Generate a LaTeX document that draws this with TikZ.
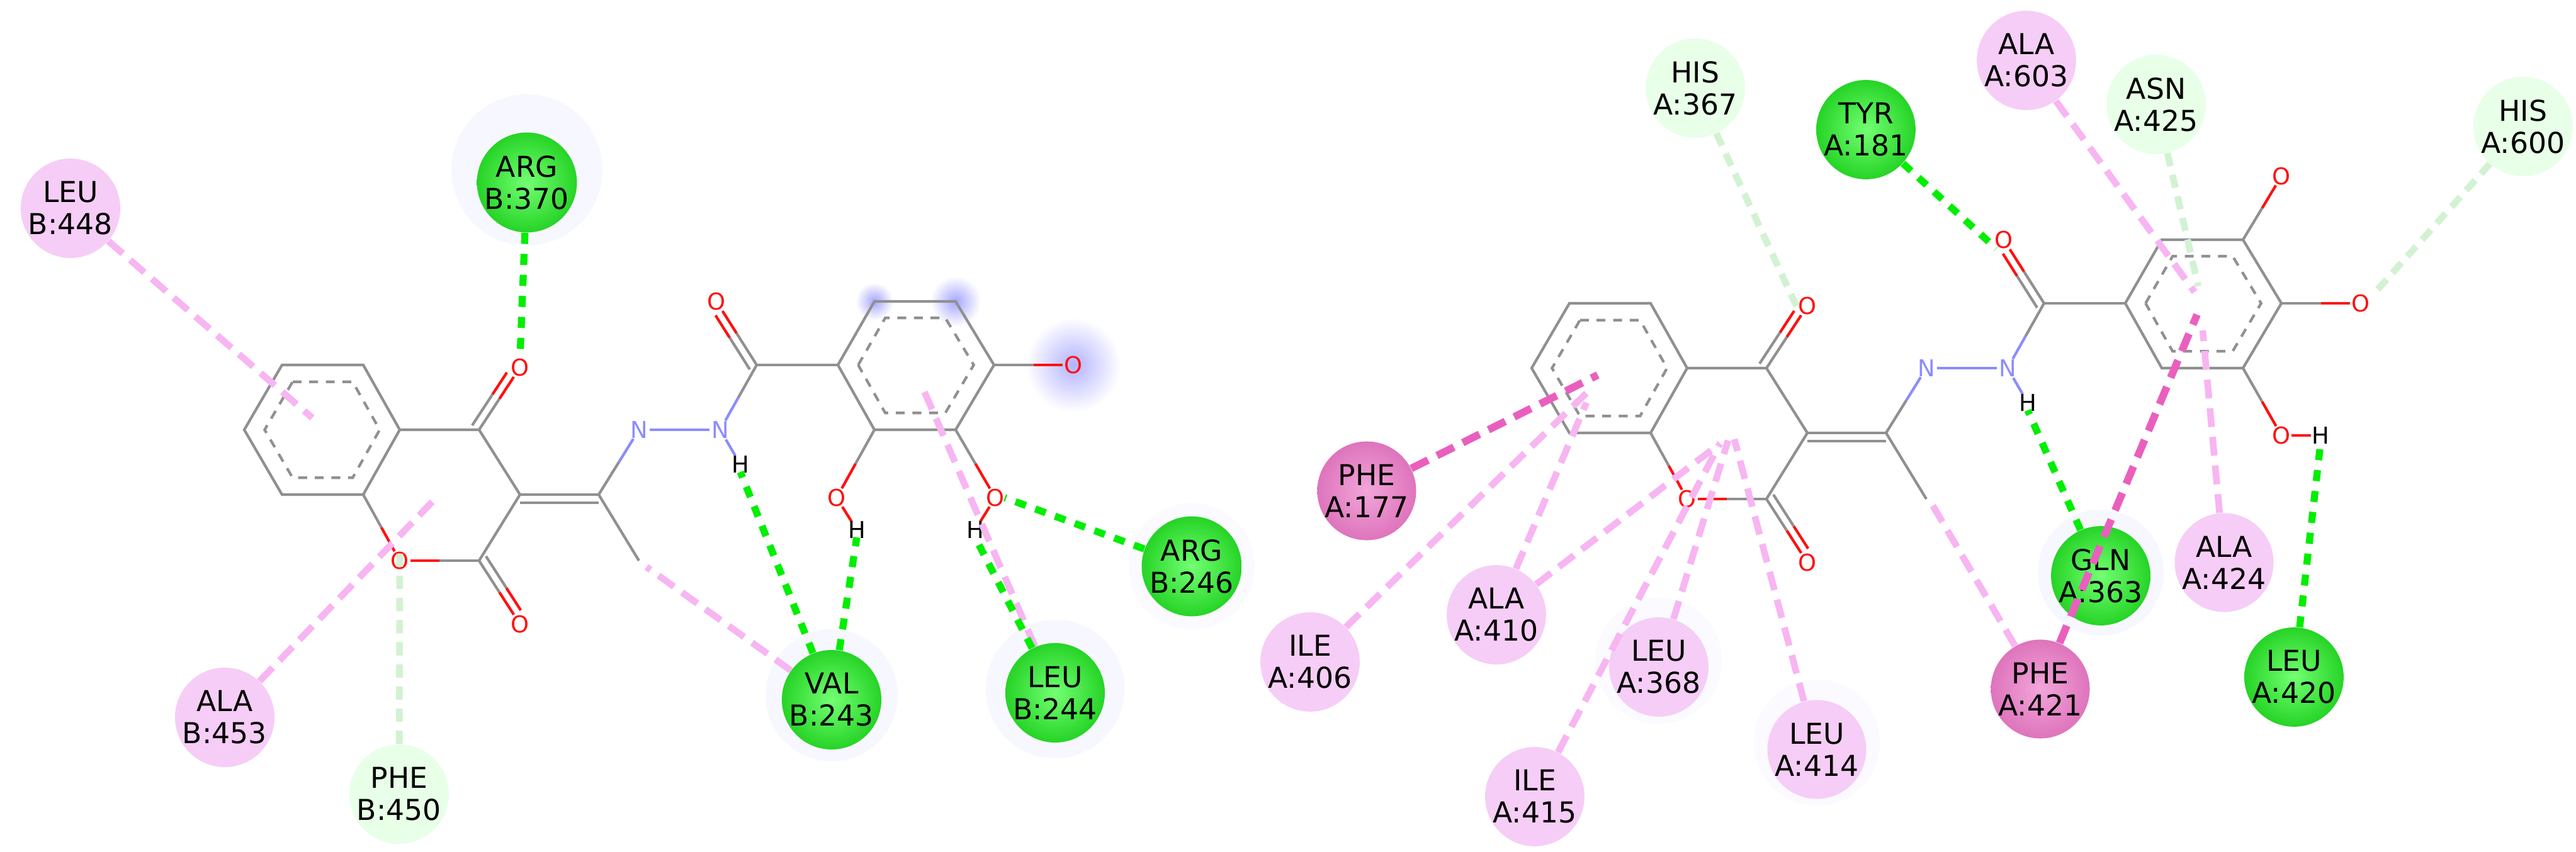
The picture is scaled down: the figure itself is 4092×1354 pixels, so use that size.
\documentclass[tikz,border=0pt]{standalone}
\usepackage{fontspec}
\setmainfont{DejaVu Sans}
\usetikzlibrary{calc}
\definecolor{bondgray}{HTML}{909090}
\definecolor{Ored}{HTML}{FF1010}
\definecolor{Nblue}{HTML}{8C8CFF}
\definecolor{hbgreen}{HTML}{00EE00}
\definecolor{pipink}{HTML}{F7B5F2}
\definecolor{vdwline}{HTML}{D2F2D2}
\definecolor{deeppink}{HTML}{EA5FBE}
\definecolor{dpin}{HTML}{F2A6DA}
\definecolor{dpout}{HTML}{DE74BC}
\definecolor{lpink}{HTML}{F6CDF6}
\tikzset{
  bond/.style={draw=bondgray,line width=1.2pt},
  atO/.style={text=Ored,inner sep=0pt,font=\fontsize{10.5}{12}\selectfont},
  atN/.style={text=Nblue,inner sep=0pt,font=\fontsize{10.5}{12}\selectfont},
  atH/.style={text=black,inner sep=0pt,font=\fontsize{10.5}{12}\selectfont},
  res/.style={circle,minimum size=1.56cm,inner sep=0pt,align=center,font=\fontsize{13}{14.5}\selectfont},
  resG/.style={res,shading=radial,inner color=green!55!white,outer color=green!80!black!85},
  resP/.style={res,fill=lpink},
  resL/.style={res,fill=green!9!white},
  resD/.style={res,shading=radial,inner color=dpin,outer color=dpout},
  hbl/.style={draw=hbgreen,line width=3.2pt,dash pattern=on 5pt off 4.5pt},
  pil/.style={draw=pipink,line width=3pt,dash pattern=on 8.5pt off 4.5pt},
  vdw/.style={draw=vdwline,line width=3pt,dash pattern=on 6pt off 4pt},
  ppl/.style={draw=deeppink,line width=3.4pt,dash pattern=on 8.5pt off 4.5pt},
  halo/.style={fill=blue!3},
  arom/.style={draw=bondgray,line width=1.2pt,dash pattern=on 4pt off 3.5pt},
}
\newcommand{\hbd}[5]{%
  \draw[bond,#3] (#1) -- ($(#1)!.5!(#2)$);
  \draw[bond,#4,shorten >=#5] ($(#1)!.5!(#2)$) -- (#2);}
\newcommand{\dhb}[6]{%
  \hbd{#1}{#2}{#3}{#4}{#5}
  \draw[bond,#3] ([shift={#6}]#1) -- ($([shift={#6}]#1)!.5!([shift={#6}]#2)$);
  \draw[bond,#4,shorten >=#5] ($([shift={#6}]#1)!.5!([shift={#6}]#2)$) -- ([shift={#6}]#2);}
\newcommand{\aromring}[7]{%
  \coordinate (#1c) at ($(#2)!.5!(#5)$);
  \draw[bond] (#2) -- (#3) -- (#4) -- (#5) -- (#6) -- (#7) -- cycle;
  \draw[arom] ($(#1c)!.74!(#2)$) -- ($(#1c)!.74!(#3)$) -- ($(#1c)!.74!(#4)$) -- ($(#1c)!.74!(#5)$) -- ($(#1c)!.74!(#6)$) -- ($(#1c)!.74!(#7)$) -- cycle;}
\newcommand{\mcore}[1]{%
  \coordinate (#1b1) at (2493,482); \coordinate (#1b2) at (2622,482);
  \coordinate (#1b3) at (2680,585); \coordinate (#1b4) at (2622,688);
  \coordinate (#1b5) at (2493,688); \coordinate (#1b6) at (2433,585);
  \coordinate (#1C4) at (2806,585); \coordinate (#1C3) at (2871,688);
  \coordinate (#1C2) at (2806,793); \coordinate (#1O1) at (2680,793);
  \coordinate (#1O4) at (2871,486); \coordinate (#1O2) at (2871,894);
  \coordinate (#1Cx) at (2996,688); \coordinate (#1Me) at (3060,793);
  \coordinate (#1N1) at (3060,585); \coordinate (#1N2) at (3189,585);
  \coordinate (#1H) at (3221,640); \coordinate (#1Ca) at (3247,482);
  \coordinate (#1Oa) at (3183,381);
  \coordinate (#1r1) at (3376,482); \coordinate (#1r2) at (3434,381);
  \coordinate (#1r3) at (3563,381); \coordinate (#1r4) at (3624,482);
  \coordinate (#1r5) at (3563,585); \coordinate (#1r6) at (3434,585);
  \aromring{#1B}{#1b1}{#1b2}{#1b3}{#1b4}{#1b5}{#1b6}
  \aromring{#1R}{#1r1}{#1r2}{#1r3}{#1r4}{#1r5}{#1r6}
  \draw[bond] (#1b3) -- (#1C4) -- (#1C3) -- (#1C2);
  \hbd{#1b4}{#1O1}{}{Ored}{0.17cm}
  \hbd{#1C2}{#1O1}{}{Ored}{0.17cm}
  \dhb{#1C4}{#1O4}{}{Ored}{0.18cm}{(-11,-7)}
  \dhb{#1C2}{#1O2}{}{Ored}{0.18cm}{(11,-7)}
  \draw[bond] (#1C3) -- (#1Cx); \draw[bond] ([yshift=-0.13cm]#1C3) -- ([yshift=-0.13cm]#1Cx);
  \draw[bond] (#1Cx) -- (#1Me);
  \hbd{#1Cx}{#1N1}{}{Nblue}{0.17cm}
  \draw[bond,Nblue,shorten <=0.17cm,shorten >=0.17cm] (#1N1) -- (#1N2);
  \hbd{#1Ca}{#1N2}{}{Nblue}{0.17cm}
  \dhb{#1Ca}{#1Oa}{}{Ored}{0.18cm}{(-11,7)}
  \draw[bond] (#1Ca) -- (#1r1);
  \draw[bond,Nblue,shorten <=0.18cm,shorten >=0.16cm] (#1N2) -- (#1H);
  \node[atO] at (#1O1) {O}; \node[atO] at (#1O4) {O}; \node[atO] at (#1O2) {O};
  \node[atO] at (#1Oa) {O}; \node[atN] at (#1N1) {N}; \node[atN] at (#1N2) {N};
  \node[atH] at (#1H) {H};}
\begin{document}
\begin{tikzpicture}[x=0.01cm,y=-0.01cm]
\useasboundingbox (0,0) rectangle (4092,1354);
\fill[white] (0,0) rectangle (4092,1354);
% halos
\fill[halo] (837,270) circle (120);
\fill[halo] (1321,1105) circle (105);
\fill[halo] (1676,1095) circle (110);
\fill[blue!2] (1893,900) circle (100);
\fill[halo] (3337,910) circle (100);
\fill[blue!2] (2635,1050) circle (100);
\fill[blue!2] (2886,1180) circle (100);
\shade[inner color=blue!35,outer color=white] (1389,479) circle (30);
\shade[inner color=blue!35,outer color=white] (1518,479) circle (40);
\shade[inner color=blue!30,outer color=white] (1705,580) circle (75);
% ===== left molecule =====
\begin{scope}[shift={(-2045,98)}]
  \mcore{L}
  \coordinate (LOr) at (3750,482);
  \coordinate (LOb) at (3374,693); \coordinate (LHb) at (3406,744);
  \coordinate (LOc) at (3626,693); \coordinate (LHc) at (3594,744);
  \hbd{Lr4}{LOr}{}{Ored}{0.17cm}
  \hbd{Lr6}{LOb}{}{Ored}{0.17cm}
  \hbd{Lr5}{LOc}{}{Ored}{0.17cm}
  \draw[bond,Ored,shorten <=0.17cm,shorten >=0.15cm] (LOb) -- (LHb);
  \draw[bond,Ored,shorten <=0.17cm,shorten >=0.15cm] (LOc) -- (LHc);
  \node[atO] at (LOr) {O}; \node[atO] at (LOb) {O}; \node[atO] at (LOc) {O};
  \node[atH] at (LHb) {H}; \node[atH] at (LHc) {H};
\end{scope}
% ===== right molecule =====
\mcore{R}
\coordinate (ROt) at (3624,280); \coordinate (ROr) at (3750,482);
\coordinate (ROc) at (3624,692); \coordinate (RHc) at (3686,692);
\hbd{Rr3}{ROt}{}{Ored}{0.17cm}
\hbd{Rr4}{ROr}{}{Ored}{0.17cm}
\hbd{Rr5}{ROc}{}{Ored}{0.17cm}
\draw[bond,Ored,shorten <=0.16cm,shorten >=0.15cm] (ROc) -- (RHc);
\node[atO] at (ROt) {O}; \node[atO] at (ROr) {O}; \node[atO] at (ROc) {O};
\node[atH] at (RHc) {H};
% residues
\node[resP] (leu448) at (112,331) {LEU\\B:448};
\node[resG] (arg370) at (837,290) {ARG\\B:370};
\node[resP] (ala453) at (357,1140) {ALA\\B:453};
\node[resL] (phe450) at (634,1262) {PHE\\B:450};
\node[resG] (val243) at (1321,1112) {VAL\\B:243};
\node[resG] (leu244) at (1676,1101) {LEU\\B:244};
\node[resG] (arg246) at (1893,900) {ARG\\B:246};
\node[resL] (his367) at (2693,140) {HIS\\A:367};
\node[resG] (tyr181) at (2964,206) {TYR\\A:181};
\node[resP] (ala603) at (3219,96) {ALA\\A:603};
\node[resL] (asn425) at (3425,166) {ASN\\A:425};
\node[resL] (his600) at (4008,201) {HIS\\A:600};
\node[resD] (phe177) at (2171,780) {PHE\\A:177};
\node[resP] (ala410) at (2377,977) {ALA\\A:410};
\node[resP] (ile406) at (2081,1052) {ILE\\A:406};
\node[resP] (leu368) at (2635,1060) {LEU\\A:368};
\node[resP] (leu414) at (2886,1191) {LEU\\A:414};
\node[resP] (ile415) at (2438,1266) {ILE\\A:415};
\node[resD] (phe421) at (3241,1095) {PHE\\A:421};
\node[resG] (gln363) at (3337,915) {GLN\\A:363};
\node[resP] (ala424) at (3533,894) {ALA\\A:424};
\node[resG] (leu420) at (3644,1076) {LEU\\A:420};
% connector end points
\coordinate (eL1) at (496,664); \coordinate (eL2) at (688,796);
\coordinate (eL3) at (1463,610);
\coordinate (eR1) at (2538,596); \coordinate (eR2) at (2530,615);
\coordinate (eR3) at (2520,640); \coordinate (eR4) at (2732,705);
\coordinate (eR5) at (2745,700); \coordinate (eR6) at (2755,698);
\coordinate (eR7) at (3490,500); \coordinate (eR8) at (3486,464);
\coordinate (eR9) at (3492,455); \coordinate (eR10) at (3499,525);
% left connectors
\draw[pil] (leu448) -- (eL1);
\draw[pil] (ala453) -- (eL2);
\draw[vdw] (phe450) -- ([yshift=0.15cm]LO1);
\draw[hbl] (arg370) -- ([yshift=0.15cm]LO4);
\draw[pil] (val243) -- ([shift={(12,10)}]LMe);
\draw[hbl] (val243) -- ([yshift=-0.12cm]LH);
\draw[hbl] (val243) -- ([yshift=-0.12cm]LHb);
\draw[pil] (leu244) -- (eL3);
\draw[hbl] (leu244) -- ([yshift=-0.12cm]LHc);
\draw[hbl] (arg246) -- ([xshift=0.15cm]LOc);
% right connectors
\draw[vdw] (his367) -- ([shift={(-12,12)}]RO4);
\draw[hbl] (tyr181) -- ([shift={(-12,14)}]ROa);
\draw[pil] (ala603) -- (eR8);
\draw[vdw] (asn425) -- (eR9);
\draw[vdw] (his600) -- ([shift={(18,-12)}]ROr);
\draw[ppl] (phe177) -- (eR1);
\draw[pil] (ile406) -- (eR2);
\draw[pil] (ala410) -- (eR3);
\draw[pil] (ala410) -- (eR4);
\draw[pil] (ile415) -- (eR4);
\draw[pil] (leu368) -- (eR5);
\draw[pil] (leu414) -- (eR6);
\draw[pil] (phe421) -- ([shift={(10,10)}]RMe);
\draw[ppl] (phe421) -- (eR7);
\draw[hbl] (gln363) -- ([yshift=-0.12cm]RH);
\draw[pil] (ala424) -- (eR10);
\draw[hbl] (leu420) -- ([yshift=-0.14cm]RHc);
\end{tikzpicture}
\end{document}
